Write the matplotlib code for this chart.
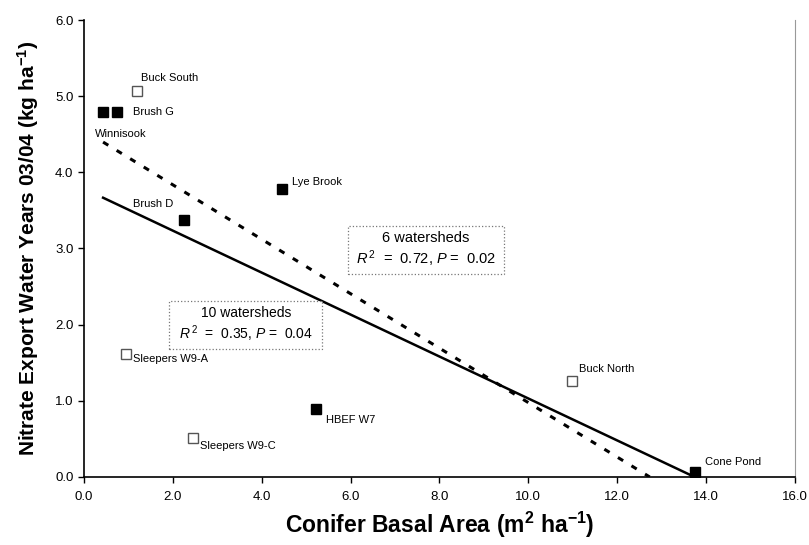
import matplotlib
matplotlib.use("Agg")
import matplotlib.pyplot as plt
import numpy as np
from matplotlib.patches import Rectangle
from matplotlib.ticker import FormatStrFormatter, MultipleLocator

plt.rcParams['font.family'] = ['Liberation Sans', 'DejaVu Sans']
plt.rcParams['mathtext.fontset'] = 'custom'
plt.rcParams['mathtext.rm'] = 'Liberation Sans'
plt.rcParams['mathtext.it'] = 'Liberation Sans:italic'
plt.rcParams['mathtext.bf'] = 'Liberation Sans:bold'

# filled squares: the 6 watersheds
filled_names = ['Winnisook', 'Brush G', 'Brush D', 'Lye Brook', 'HBEF W7', 'Cone Pond']
filled_x = [0.43, 0.75, 2.25, 4.46, 5.23, 13.75]
filled_y = [4.79, 4.79, 3.38, 3.78, 0.89, 0.07]

# open squares: the other 4
open_names = ['Buck South', 'Sleepers W9-A', 'Sleepers W9-C', 'Buck North']
open_x = [1.19, 0.94, 2.45, 10.99]
open_y = [5.07, 1.62, 0.51, 1.26]

# label offsets in points (dx, dy)
label_offsets = {
    'Winnisook': (-6, -16),
    'Brush G': (11, 0),
    'Brush D': (-37, 11),
    'Lye Brook': (7, 5),
    'HBEF W7': (7, -8),
    'Cone Pond': (7, 7),
    'Buck South': (3, 9),
    'Sleepers W9-A': (5, -4),
    'Sleepers W9-C': (5, -6),
    'Buck North': (5, 9),
}

fig = plt.figure(figsize=(8.09, 5.45), dpi=100)
ax = fig.add_axes([0.1038, 0.1248, 0.8789, 0.8385])

ax.plot(filled_x, filled_y, 's', color='black', markersize=7.5, zorder=3)
ax.plot(open_x, open_y, 's', markerfacecolor='white', markeredgecolor='#555555',
        markeredgewidth=1.0, markersize=7.5, zorder=3)

# trend lines
all_x = np.array(filled_x + open_x)
all_y = np.array(filled_y + open_y)
fx = np.array(filled_x)
fy = np.array(filled_y)

s_all, b_all = np.polyfit(all_x, all_y, 1)
xs = np.array([all_x.min(), fx.max()])
ax.plot(xs, s_all * xs + b_all, color='black', lw=1.8, zorder=2)

s_f, b_f = np.polyfit(fx, fy, 1)
xd = np.array([fx.min(), -b_f / s_f])
ax.plot(xd, s_f * xd + b_f, color='black', lw=2.2, ls=(0, (2, 3.2)), zorder=2)

for name, x, y in zip(filled_names + open_names, filled_x + open_x, filled_y + open_y):
    dx, dy = label_offsets[name]
    ax.annotate(name, (x, y), xytext=(dx, dy), textcoords='offset points',
                ha='left', va='center', fontsize=8)

# stat boxes (axes fractions)
for (x0, y0, w, h) in [(0.371, 0.445, 0.220, 0.105), (0.120, 0.279, 0.215, 0.107)]:
    ax.add_patch(Rectangle((x0, y0), w, h, transform=ax.transAxes, facecolor='white',
                           edgecolor='#777777', linestyle=':', linewidth=0.9, zorder=4))
ax.text(0.481, 0.524, '6 watersheds', transform=ax.transAxes, ha='center', va='center',
        fontsize=10.5, zorder=5)
ax.text(0.481, 0.477, '$R^{\\,2}$  =  0.72, $P$ =  0.02', transform=ax.transAxes,
        ha='center', va='center', fontsize=10.5, zorder=5)
ax.text(0.2275, 0.359, '10 watersheds', transform=ax.transAxes, ha='center', va='center',
        fontsize=10, zorder=5)
ax.text(0.2275, 0.314, '$R^{\\,2}$  =  0.35, $P$ =  0.04', transform=ax.transAxes,
        ha='center', va='center', fontsize=10, zorder=5)

ax.set_xlim(0, 16)
ax.set_ylim(0, 6)
ax.xaxis.set_major_locator(MultipleLocator(2))
ax.yaxis.set_major_locator(MultipleLocator(1))
ax.xaxis.set_major_formatter(FormatStrFormatter('%.1f'))
ax.yaxis.set_major_formatter(FormatStrFormatter('%.1f'))
ax.tick_params(direction='out', length=4, width=1, labelsize=9.5, colors='black')
ax.tick_params(axis='x', pad=6)
ax.spines['top'].set_visible(False)
ax.spines['right'].set_color('#999999')
ax.spines['left'].set_linewidth(1.2)
ax.spines['bottom'].set_linewidth(1.2)

ax.set_xlabel('Conifer Basal Area (m$^{\\mathbf{2}}$ ha$^{\\mathbf{-1}}$)',
              fontsize=16.5, fontweight='bold', labelpad=5)
ax.set_ylabel('Nitrate Export Water Years 03/04 (kg ha$^{\\mathbf{-1}}$)',
              fontsize=15, fontweight='bold', labelpad=10)

fig.savefig('out.png', dpi=100)
